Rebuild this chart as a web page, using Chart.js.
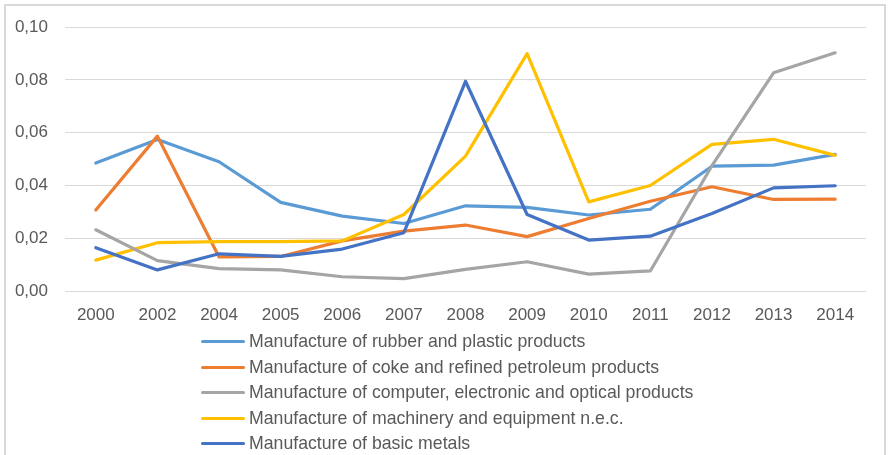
<!DOCTYPE html>
<html>
<head>
<meta charset="utf-8">
<script src="https://cdn.jsdelivr.net/npm/chart.js@4/dist/chart.umd.min.js"></script>
<style>
  html, body { margin: 0; padding: 0; background: #fff; }
  #wrap { position: relative; width: 889px; height: 455px; overflow: hidden; background: #fff; }
  #frame { position: absolute; left: 4px; top: 4px; width: 882px; height: 470px; border: 2px solid #d9d9d9; box-sizing: border-box; }
  #lineChart { position: absolute; left: 0; top: 0; }
  #legend { position: absolute; left: 201px; top: 329px; margin: 0; padding: 0; list-style: none;
            font-family: "Liberation Sans", Arial, sans-serif; font-size: 17.7px; color: #595959; }
  #legend li { height: 25.5px; display: flex; align-items: center; white-space: nowrap; }
  #legend .sw { display: inline-block; width: 44px; height: 3px; border-radius: 2px; margin-right: 4px; }
</style>
</head>
<body>
<div id="wrap">
  <div id="frame"></div>
  <canvas id="lineChart" width="889" height="330"></canvas>
  <ul id="legend"></ul>
</div>
<script>
const years = ['2000', '2002', '2004', '2005', '2006', '2007', '2008', '2009', '2010', '2011', '2012', '2013', '2014'];

const rubber    = [0.0485, 0.0574, 0.0490, 0.0336, 0.0284, 0.0256, 0.0323, 0.0317, 0.0288, 0.0310, 0.0473, 0.0477, 0.0518];
const coke      = [0.0307, 0.0587, 0.0129, 0.0131, 0.0190, 0.0227, 0.0250, 0.0206, 0.0275, 0.0340, 0.0395, 0.0347, 0.0348];
const computer  = [0.0232, 0.0115, 0.0085, 0.0080, 0.0054, 0.0047, 0.0082, 0.0111, 0.0064, 0.0076, 0.0475, 0.0827, 0.0903];
const machinery = [0.0117, 0.0183, 0.0187, 0.0187, 0.0190, 0.0290, 0.0511, 0.0900, 0.0338, 0.0400, 0.0556, 0.0575, 0.0514];
const metals    = [0.0164, 0.0080, 0.0141, 0.0131, 0.0159, 0.0221, 0.0795, 0.0290, 0.0193, 0.0208, 0.0294, 0.0391, 0.0399];

const seriesNames = [
  'Manufacture of rubber and plastic products',
  'Manufacture of coke and refined petroleum products',
  'Manufacture of computer, electronic and optical products',
  'Manufacture of machinery and equipment n.e.c.',
  'Manufacture of basic metals'
];
const seriesColors = ['#5b9bd5', '#ed7d31', '#a5a5a5', '#ffc000', '#4472c4'];
const seriesData = [rubber, coke, computer, machinery, metals];
// drawing order: higher = further back
const drawOrder = [5, 4, 2, 3, 1];

const yTicks = [0, 0.02, 0.04, 0.06, 0.08, 0.10];

const tickFont = { family: '"Liberation Sans", Arial, sans-serif', size: 17 };

const lineChart = new Chart(
  document.querySelector('#lineChart'),
  {
    type: 'line',
    data: {
      labels: years,
      datasets: seriesData.map((d, i) => ({
        label: seriesNames[i],
        data: d,
        borderColor: seriesColors[i],
        backgroundColor: seriesColors[i],
        borderWidth: 3.2,
        borderCapStyle: 'round',
        borderJoinStyle: 'round',
        pointRadius: 0,
        tension: 0,
        order: drawOrder[i]
      }))
    },
    options: {
      responsive: false,
      animation: false,
      devicePixelRatio: 1,
      layout: { padding: { left: 0, right: 23, top: 27, bottom: 0 } },
      plugins: {
        legend: { display: false },
        tooltip: { enabled: false }
      },
      scales: {
        x: {
          offset: true,
          grid: { display: false, drawTicks: false },
          border: { display: false },
          ticks: { color: '#595959', font: tickFont, padding: 14, maxRotation: 0, autoSkip: false },
          afterFit: (scale) => { scale.height = 39; }
        },
        y: {
          min: 0,
          max: 0.1,
          afterBuildTicks: (scale) => { scale.ticks = yTicks.map(v => ({ value: v })); },
          grid: { color: '#d9d9d9', lineWidth: 1, drawTicks: false },
          border: { display: false },
          ticks: {
            color: '#595959',
            font: tickFont,
            padding: 17,
            callback: (v) => Number(v).toFixed(2).replace('.', ',')
          },
          afterFit: (scale) => { scale.width = 65; }
        }
      }
    }
  }
);

// legend, one entry per row, built from the chart's datasets
const legendEl = document.querySelector('#legend');
lineChart.data.datasets.forEach(ds => {
  const li = document.createElement('li');
  const sw = document.createElement('span');
  sw.className = 'sw';
  sw.style.background = ds.borderColor;
  li.appendChild(sw);
  li.appendChild(document.createTextNode(ds.label));
  legendEl.appendChild(li);
});
</script>
</body>
</html>
